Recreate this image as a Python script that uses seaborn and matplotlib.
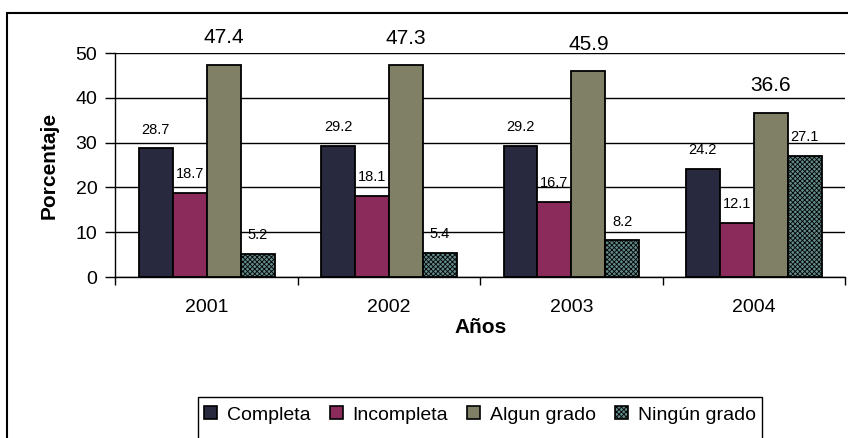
import matplotlib
matplotlib.use("Agg")
import matplotlib.pyplot as plt
from matplotlib.patches import Patch, Rectangle
from matplotlib.ticker import FixedLocator
import numpy as np
import pandas as pd
import seaborn as sns

# Porcentaje por nivel de instrucción y año
years = ["2001", "2002", "2003", "2004"]
levels = ["Completa", "Incompleta", "Algun grado", "Ningún grado"]
completa = [28.7, 29.2, 29.2, 24.2]
incompleta = [18.7, 18.1, 16.7, 12.1]
algun_grado = [47.4, 47.3, 45.9, 36.6]
ningun_grado = [5.2, 5.4, 8.2, 27.1]
yticks = [0, 10, 20, 30, 40, 50]

colors = ["#28283f", "#8a2b5b", "#808067", "#628a8a"]

series = [completa, incompleta, algun_grado, ningun_grado]
df = pd.DataFrame(
    [(y, lev, v) for lev, vals in zip(levels, series) for y, v in zip(years, vals)],
    columns=["Año", "Nivel", "Porcentaje"],
)

sns.set_style("white")
plt.rcParams["font.family"] = ["Liberation Sans", "DejaVu Sans"]
plt.rcParams["hatch.linewidth"] = 0.6
for key in ["text.color", "axes.labelcolor", "xtick.color", "ytick.color"]:
    plt.rcParams[key] = "black"

HATCH = "xxxxxxx"

W, H = 848, 438
fig = plt.figure(figsize=(W / 100, H / 100), dpi=100)
ax = fig.add_axes([115.5 / W, 1 - 277 / H, (845 - 115.5) / W, (277 - 53) / H])

sns.barplot(
    data=df, x="Año", y="Porcentaje", hue="Nivel", hue_order=levels,
    order=years, palette=colors, saturation=1, width=0.745,
    edgecolor="black", linewidth=1.3, ax=ax, legend=False,
)

# fine checkered fill for "Ningún grado"
for bar in ax.containers[3]:
    bar.set_hatch(HATCH)

# value labels above each bar
for i, cont in enumerate(ax.containers):
    big = levels[i] == "Algun grado"
    for bar in cont:
        h = bar.get_height()
        ax.annotate(
            f"{h:.1f}",
            (bar.get_x() + bar.get_width() / 2, h),
            xytext=(0, 19.5 if big else 13.5), textcoords="offset points",
            ha="center", va="center", fontsize=15 if big else 10.5,
            color="black", annotation_clip=False,
        )

ax.set_ylim(0, 50)
ax.set_xlim(-0.5, 3.5)
ax.set_yticks(yticks)
ax.yaxis.grid(True, color="black", linewidth=1)
ax.xaxis.grid(False)
ax.set_axisbelow(True)

ax.xaxis.set_minor_locator(FixedLocator(np.arange(-0.5, 4, 1)))
ax.tick_params(axis="x", which="major", length=0, pad=16, labelsize=14)
ax.tick_params(axis="x", which="minor", length=6, width=1, color="black", direction="out", bottom=True)
ax.tick_params(axis="y", which="major", length=7, width=1, color="black", direction="out", left=True, pad=6, labelsize=14)

for s in ["top", "right"]:
    ax.spines[s].set_visible(False)
for s in ["left", "bottom"]:
    ax.spines[s].set_color("black")
    ax.spines[s].set_linewidth(1)

ax.set_xlabel("Años", fontsize=15, fontweight="bold", labelpad=1)
ax.set_ylabel("Porcentaje", fontsize=15, fontweight="bold", labelpad=12)

# legend
handles = [
    Patch(facecolor=c, edgecolor="black", linewidth=1.2, hatch=(HATCH if lev == "Ningún grado" else None))
    for c, lev in zip(colors, levels)
]
fig.legend(
    handles, levels, loc="center", ncol=4, frameon=False, fontsize=14,
    bbox_to_anchor=((198 + 762) / 2 / W, 1 - 415 / H),
    handlelength=0.65, handleheight=0.65, handletextpad=0.5, columnspacing=1.0,
    borderpad=0,
)
fig.add_artist(Rectangle((198 / W, -0.1), (762 - 198) / W, 1 - 397 / H + 0.1,
                         transform=fig.transFigure, fill=False, edgecolor="black", linewidth=1))

# chart area border
fig.add_artist(Rectangle((7 / W, -0.1), 1.2, 1 - 13 / H + 0.1,
                         transform=fig.transFigure, fill=False, edgecolor="black", linewidth=1.5))

fig.savefig("out.png", dpi=100)
